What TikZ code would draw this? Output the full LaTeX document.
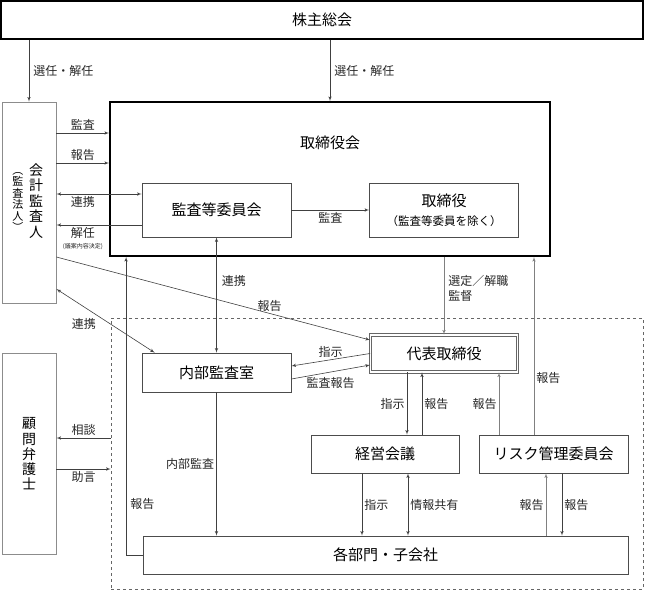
\documentclass[tikz,border=0pt]{standalone}
\usepackage{fontspec}
\setmainfont{Noto Sans CJK JP}
\usepackage{tikz}
\usetikzlibrary{shapes,arrows}
\tikzstyle{topblock} = [rectangle, draw, line width=1.8pt, inner sep=0pt, font=\fontsize{15}{18}\selectfont]
\tikzstyle{block} = [rectangle, draw=black!70, line width=0.7pt, fill=white, inner sep=0pt,
    minimum width=149pt, minimum height=39pt, font=\fontsize{15}{18}\selectfont]
\tikzstyle{sideblock} = [rectangle, draw=black!45, line width=0.8pt, inner sep=0pt,
    minimum width=54pt, minimum height=201pt, align=center, font=\fontsize{14}{15.2}\selectfont]
\tikzstyle{group} = [rectangle, draw=black!60, dashed, line width=0.6pt, inner sep=0pt]
\tikzstyle{line} = [draw, black!75, line width=0.6pt, -latex']
\tikzstyle{lightline} = [line, black!50]
\tikzstyle{lbl} = [inner sep=2pt, font=\fontsize{12}{14}\selectfont, text=black!85]

\begin{document}
\begin{tikzpicture}[x=1pt, y=-1pt]
    \useasboundingbox (0,0) rectangle (645,590);
    % Place nodes
    \node [group, minimum width=532pt, minimum height=271pt] (company) at (377,453.5) {};
    \node [topblock, minimum width=642pt, minimum height=38pt] (agm) at (322,20) {株主総会};
    \node [topblock, minimum width=440pt, minimum height=154pt] (board) at (330,179) {};
    \node [font=\fontsize{15}{18}\selectfont] (boardtitle) at (330,143) {取締役会};
    \node [sideblock] (auditor) at (29,202.5) {};
    \node [align=center, inner sep=0pt, font=\fontsize{14}{15.4}\selectfont] (auditorname) at (36,201) {会\\計\\監\\査\\人};
    \node [align=center, inner sep=0pt, font=\fontsize{11}{11.5}\selectfont] (auditorfirm) at (18,202) {︵\\監\\査\\法\\人\\︶};
    \node [sideblock, below of=auditor, node distance=251.5pt] (lawyer) {顧\\問\\弁\\護\\士};
    \node [block, minimum height=54pt] (acmte) at (216.5,210) {監査等委員会};
    \node [block, minimum height=54pt, align=center, right of=acmte, node distance=227.5pt] (directors)
        {取締役\\[1pt]{\fontsize{11.5}{14}\selectfont （監査等委員を除く）}};
    \node [block, draw=black!60, line width=0.9pt, double=white, double distance=1.3pt,
        minimum width=147pt, minimum height=37pt, below of=directors, node distance=143.5pt] (ceo) {代表取締役};
    \node [block, below of=acmte, node distance=162.5pt] (audit) {内部監査室};
    \node [block, minimum width=148pt, minimum height=38pt] (mgmt) at (385,454) {経営会議};
    \node [block, minimum height=38pt, right of=mgmt, node distance=168.5pt] (risk) {リスク管理委員会};
    \node [block, minimum width=485pt, minimum height=38pt] (depts) at (385.5,555) {各部門・子会社};

    % Draw edges
    \path [line] (auditor.north |- agm.south) -- node [lbl, right, xshift=2pt] {選任・解任} (auditor.north);
    \path [line] (board.north |- agm.south) -- node [lbl, right, xshift=2pt] {選任・解任} (board.north);
    \path [line] (auditor.east |- 0,133) -- node [lbl, above] {監査} (board.west |- 0,133);
    \path [line] (auditor.east |- 0,163) -- node [lbl, above] {報告} (board.west |- 0,163);
    \path [line, latex'-latex'] (auditor.east |- 0,194) -- node [lbl, below, pos=0.31] {連携} (acmte.west |- 0,194);
    \path [line] (acmte.west |- 0,225) -- node [lbl, below, pos=0.69, align=center]
        {解任\\[-3pt]{\fontsize{6}{7}\selectfont (議案内容決定)}} (auditor.east |- 0,225);
    \path [line] (acmte) -- node [lbl, below] {監査} (directors);
    \path [line, latex'-latex'] (acmte) -- node [lbl, right, pos=0.38, xshift=3pt] {連携} (audit);
    \path [line] (depts.west) -| node [lbl, right, pos=0.585, xshift=2pt] {報告} ([xshift=17pt]board.south west);
    \path [line] (auditor.east |- 0,257) -- node [lbl, above, pos=0.68] {報告} (ceo.west |- 0,340);
    \path [line, latex'-latex'] (auditor.east |- 0,289) -- node [lbl, below, pos=0.28, yshift=-9pt] {連携} ([xshift=13pt]audit.north west);
    \path [lightline] (board.south -| ceo.north) -- node [lbl, right, pos=0.41, xshift=2pt, align=left] {選定／解職\\[1pt]監督} (ceo.north);
    \path [line] (ceo.west) -- node [lbl, above] {指示} ([yshift=6.5pt]audit.east);
    \path [line] ([yshift=-6.5pt]audit.east) -- node [lbl, below, yshift=-3pt] {監査報告} ([yshift=-11.5pt]ceo.west);
    \path [line] (ceo.south -| 407,0) -- node [lbl, left] {指示} (mgmt.north -| 407,0);
    \path [line] (mgmt.north -| 422,0) -- node [lbl, right] {報告} (ceo.south -| 422,0);
    \path [lightline] (risk.north -| 499,0) -- node [lbl, left] {報告} (ceo.south -| 499,0);
    \path [lightline] (risk.north -| 534,0) -- node [lbl, right, pos=0.32] {報告} (board.south -| 534,0);
    \path [line] (audit) -- node [lbl, left] {内部監査} (audit |- depts.north);
    \path [line] (mgmt.south -| 362,0) -- node [lbl, right] {指示} (depts.north -| 362,0);
    \path [line, latex'-latex'] (mgmt.south -| 408,0) -- node [lbl, right] {情報共有} (depts.north -| 408,0);
    \path [lightline] (depts.north -| 546,0) -- node [lbl, left] {報告} (risk.south -| 546,0);
    \path [line] (risk.south -| 562,0) -- node [lbl, right] {報告} (depts.north -| 562,0);
    \path [line] (company.west |- 0,438) -- node [lbl, above] {相談} (lawyer.east |- 0,438);
    \path [line] (lawyer.east |- 0,469) -- node [lbl, below] {助言} (company.west |- 0,469);
\end{tikzpicture}
\end{document}
